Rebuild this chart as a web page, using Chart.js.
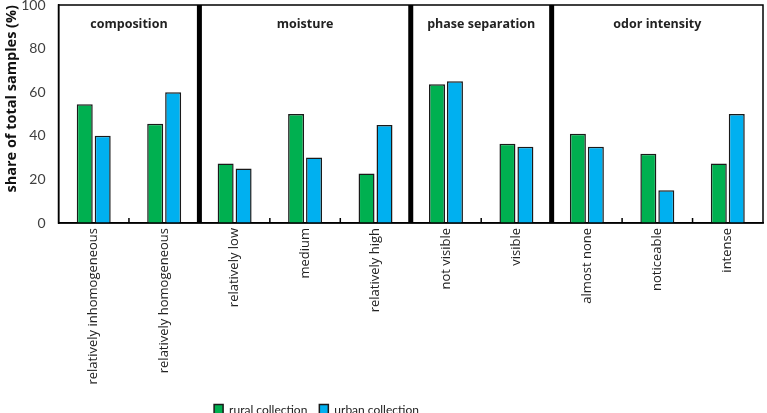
<!DOCTYPE html>
<html>
<head>
<meta charset="utf-8">
<script src="https://cdn.jsdelivr.net/npm/chart.js@4/dist/chart.umd.min.js"></script>
<style>
  html, body { margin: 0; padding: 0; background: #fff; }
  #wrap { width: 767px; height: 413px; }
</style>
</head>
<body>
<div id="wrap"><canvas id="chart"></canvas></div>
<script>
// Sample properties, grouped by attribute
const categories = [
    'relatively inhomogeneous', 'relatively homogeneous',
    'relatively low', 'medium', 'relatively high',
    'not visible', 'visible',
    'almost none', 'noticeable', 'intense'
];
const groups = [
    { name: 'composition', from: 0, to: 1 },
    { name: 'moisture', from: 2, to: 4 },
    { name: 'phase separation', from: 5, to: 6 },
    { name: 'odor intensity', from: 7, to: 9 }
];
const rural = [54.5, 45.5, 27.3, 50.0, 22.7, 63.6, 36.4, 40.9, 31.8, 27.3];
const urban = [40, 60, 25, 30, 45, 65, 35, 35, 15, 50];
const yTicks = [0, 20, 40, 60, 80, 100];

const FONT = 'Lato, "Open Sans", sans-serif';
const LABEL_FONT = '"Open Sans", sans-serif';

// Frame, group separators, group titles and small category ticks
const groupPlugin = {
    id: 'groups',
    afterLayout(chart) {
        // legend sits left of centre in the original
        chart.legend.left -= 65;
        chart.legend.right -= 65;
    },
    afterDatasetsDraw(chart) {
        const { ctx, chartArea: a, scales: { x } } = chart;
        const mid = i => (x.getPixelForValue(i) + x.getPixelForValue(i + 1)) / 2;
        ctx.save();
        ctx.strokeStyle = '#000';
        ctx.lineWidth = 1.5;
        ctx.strokeRect(a.left, a.top, a.right - a.left, a.bottom - a.top);

        // small ticks between categories inside a group
        groups.forEach(g => {
            for (let i = g.from; i < g.to; i++) {
                const px = mid(i);
                ctx.beginPath();
                ctx.moveTo(px, a.bottom);
                ctx.lineTo(px, a.bottom - 5);
                ctx.stroke();
            }
        });

        // thick separators between groups
        ctx.lineWidth = 5;
        groups.slice(0, -1).forEach(g => {
            const px = mid(g.to);
            ctx.beginPath();
            ctx.moveTo(px, a.top);
            ctx.lineTo(px, a.bottom);
            ctx.stroke();
        });

        // group titles
        ctx.fillStyle = '#222';
        ctx.font = 'bold 12.5px ' + LABEL_FONT;
        ctx.textAlign = 'center';
        ctx.textBaseline = 'middle';
        groups.forEach((g, gi) => {
            const left = g.from === 0 ? a.left : mid(g.from - 1);
            const right = gi === groups.length - 1 ? a.right : mid(g.to);
            ctx.fillText(g.name, (left + right) / 2, a.top + 19);
        });
        ctx.restore();
    }
};

new Chart(document.getElementById('chart'), {
    type: 'bar',
    data: {
        labels: categories,
        datasets: [
            {
                label: 'rural collection',
                data: rural,
                backgroundColor: '#00B050',
                borderColor: '#1a1a1a',
                borderWidth: 1.5
            },
            {
                label: 'urban collection',
                data: urban,
                backgroundColor: '#00B0F0',
                borderColor: '#1a1a1a',
                borderWidth: 1.5
            }
        ]
    },
    options: {
        responsive: true,
        maintainAspectRatio: false,
        animation: false,
        layout: { padding: { top: 5, right: 4, left: 0, bottom: -13 } },
        datasets: {
            bar: { categoryPercentage: 0.51, barPercentage: 0.89 }
        },
        plugins: {
            legend: {
                position: 'bottom',
                labels: {
                    boxWidth: 9,
                    boxHeight: 11,
                    padding: 12,
                    color: '#222',
                    font: { family: FONT, size: 12 }
                }
            },
            tooltip: { enabled: false }
        },
        scales: {
            x: {
                grid: { display: false, drawTicks: false },
                border: { display: true, color: '#000', width: 1.5 },
                ticks: {
                    minRotation: 90,
                    maxRotation: 90,
                    padding: 5,
                    color: '#222',
                    font: { family: LABEL_FONT, size: 13 }
                },
                afterFit: axis => {
                    axis.height = 169;
                    axis.paddingLeft = 0;
                    axis.paddingRight = 0;
                }
            },
            y: {
                min: 0,
                max: 100,
                afterBuildTicks: axis => {
                    axis.ticks = yTicks.map(v => ({ value: v }));
                },
                afterFit: axis => {
                    axis.width = 58.5;
                    axis.paddingTop = 0;
                    axis.paddingBottom = 0;
                },
                grid: { display: false },
                border: { display: true, color: '#000', width: 1.5 },
                ticks: {
                    padding: 5,
                    color: '#404040',
                    font: { family: FONT, size: 14 }
                },
                title: {
                    display: true,
                    text: 'share of total samples (%)',
                    align: 'end',
                    color: '#111',
                    padding: { top: 3, bottom: 0 },
                    font: { family: LABEL_FONT, size: 14.5, weight: 'bold' }
                }
            }
        }
    },
    plugins: [groupPlugin]
});
</script>
</body>
</html>
